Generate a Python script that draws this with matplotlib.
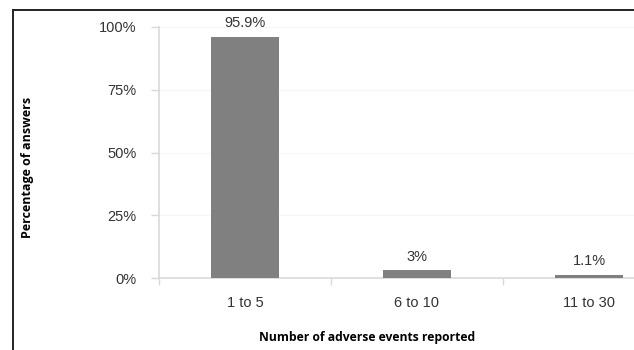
import numpy as np
import matplotlib
matplotlib.use("Agg")
import matplotlib.pyplot as plt
from matplotlib.lines import Line2D

categories = ["1 to 5", "6 to 10", "11 to 30"]
percentages = [95.9, 3.0, 1.1]
value_labels = ["95.9%", "3%", "1.1%"]
y_ticks = [0, 25, 50, 75, 100]
y_tick_labels = ["0%", "25%", "50%", "75%", "100%"]

W, H = 634, 350
fig = plt.figure(figsize=(W / 100, H / 100), dpi=100)

# axes run past the right edge, so the last bar gets clipped
left, right = 159, 675
top, bottom = 27, 278
ax = fig.add_axes([left / W, 1 - bottom / H, (right - left) / W, (bottom - top) / H])

x = np.arange(len(categories))
ax.bar(x, percentages, width=0.4, color="#808080", zorder=3)
for xi, v, lab in zip(x, percentages, value_labels):
    ax.annotate(lab, (xi, v), xytext=(0, 5), textcoords="offset points",
                ha="center", va="bottom", fontsize=10.5, color="#333333",
                family="Liberation Sans")

ax.set_xlim(-0.5, len(categories) - 0.5)
ax.set_ylim(0, 100)

ax.set_yticks(y_ticks)
ax.set_yticklabels(y_tick_labels, family="Liberation Sans", fontsize=10.5, color="#333333")
ax.tick_params(axis="y", length=6, width=1, color="#d9d9d9", pad=10)
ax.grid(axis="y", color="#f6f6f6", linewidth=0.8, zorder=0)

ax.set_xticks(x)
ax.set_xticklabels(categories, family="Liberation Sans", fontsize=10.5, color="#333333")
ax.tick_params(axis="x", which="major", length=0, pad=13)
ax.set_xticks(np.arange(len(categories) + 1) - 0.5, minor=True)
ax.tick_params(axis="x", which="minor", length=5, width=1, color="#d9d9d9")

for side in ["top", "right"]:
    ax.spines[side].set_visible(False)
for side in ["left", "bottom"]:
    ax.spines[side].set_color("#d9d9d9")
    ax.spines[side].set_linewidth(1.2)

fig.text(367 / W, 1 - 338 / H, "Number of adverse events reported",
         ha="center", va="center", fontsize=8.7, fontweight="bold", family="Open Sans")
fig.text(28 / W, 1 - 167 / H, "Percentage of answers", rotation=90,
         ha="center", va="center", fontsize=9, fontweight="bold", family="Open Sans")

# outer frame (left and top edges)
fig.add_artist(Line2D([13 / W, 13 / W], [0, 1 - 10 / H], color="#222222", linewidth=1.4))
fig.add_artist(Line2D([13 / W, 1], [1 - 10 / H, 1 - 10 / H], color="#222222", linewidth=1.4))

fig.savefig("out.png", dpi=100)
